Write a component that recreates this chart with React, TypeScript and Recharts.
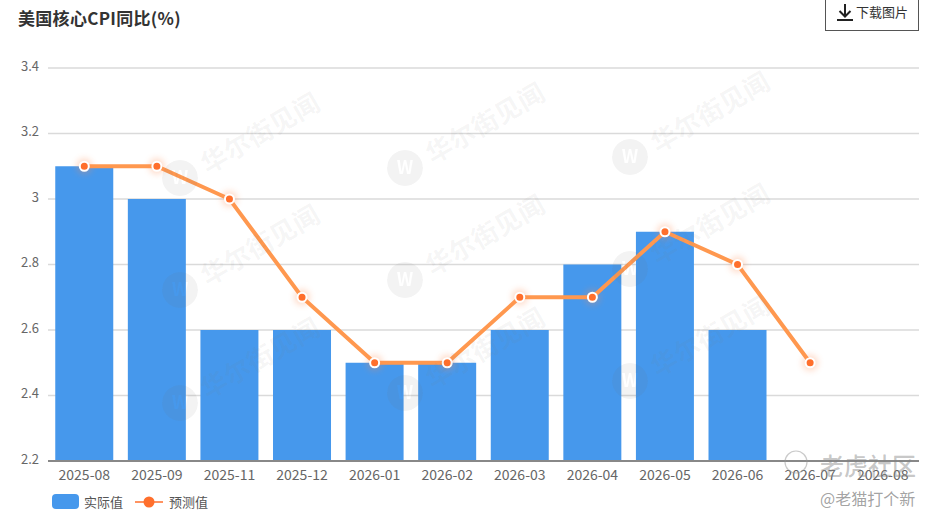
import { Bar, CartesianGrid, ComposedChart, Legend, Line, XAxis, YAxis } from 'recharts';

const FONT = '"Noto Sans CJK SC", "Noto Sans", sans-serif';

const categories = [
  '2025-08', '2025-09', '2025-11', '2025-12', '2026-01', '2026-02',
  '2026-03', '2026-04', '2026-05', '2026-06', '2026-07', '2026-08',
];
const actualValues = [3.1, 3.0, 2.6, 2.6, 2.5, 2.5, 2.6, 2.8, 2.9, 2.6, null, null];
const forecastValues = [3.1, 3.1, 3.0, 2.7, 2.5, 2.5, 2.7, 2.7, 2.9, 2.8, 2.5, null];
const yTicks = [2.2, 2.4, 2.6, 2.8, 3, 3.2, 3.4];

const watermarks = [
  [180, 178], [405, 168], [630, 157],
  [180, 290], [405, 280], [630, 269],
  [180, 403], [405, 393], [630, 381],
];

const BAR_COLOR = '#4698EC';
const LINE_COLOR = '#FF984F';
const DOT_COLOR = '#FF6F2C';

const data = categories.map((month, i) => ({
  month,
  actual: actualValues[i],
  forecast: forecastValues[i],
}));

function ForecastDot({ cx, cy, index }: any) {
  if (cy == null) return null;
  return (
    <g key={index}>
      <circle cx={cx} cy={cy} r={8} fill="#FF8A50" opacity={0.3} style={{ filter: 'blur(3px)' }} />
      <circle cx={cx} cy={cy} r={4.5} fill={DOT_COLOR} stroke="#fff" strokeWidth={2} />
    </g>
  );
}

function ChartLegend() {
  return (
    <div style={{ position: 'relative', height: 20, fontFamily: FONT, fontSize: 13, color: '#555' }}>
      <div style={{ position: 'absolute', left: 52, top: 2, width: 27, height: 15, borderRadius: 4, background: BAR_COLOR }} />
      <span style={{ position: 'absolute', left: 84, top: 0, lineHeight: '20px' }}>实际值</span>
      <svg style={{ position: 'absolute', left: 135, top: 0 }} width={28} height={20}>
        <line x1={0} x2={28} y1={10} y2={10} stroke={DOT_COLOR} strokeWidth={1.5} />
        <circle cx={14} cy={10} r={5.5} fill={DOT_COLOR} />
      </svg>
      <span style={{ position: 'absolute', left: 169, top: 0, lineHeight: '20px' }}>预测值</span>
    </div>
  );
}

function Watermarks() {
  return (
    <div style={{ position: 'absolute', left: 0, top: 0, width: 932, height: 519, overflow: 'hidden', pointerEvents: 'none' }}>
      {watermarks.map(([x, y], i) => (
        <div key={`${x}-${y}`}>
          <svg style={{ position: 'absolute', left: x - 18, top: y - 18 }} width={36} height={36}>
            <mask id={`wm-${i}`}>
              <circle cx={18} cy={18} r={18} fill="#fff" />
              <text x={18} y={24} textAnchor="middle" fontFamily={FONT} fontSize={18} fontWeight={700} fill="#000">
                W
              </text>
            </mask>
            <circle cx={18} cy={18} r={18} fill="rgba(120,120,120,0.085)" mask={`url(#wm-${i})`} />
          </svg>
          <div
            style={{
              position: 'absolute', left: x + 22, top: y - 32, fontFamily: '"Noto Sans CJK SC", serif',
              fontSize: 26, fontWeight: 700, letterSpacing: 0.5, color: 'rgba(120,120,120,0.07)', whiteSpace: 'nowrap',
              transform: 'rotate(-30deg)', transformOrigin: '0 50%',
            }}
          >
            华尔街见闻
          </div>
        </div>
      ))}
      <svg style={{ position: 'absolute', left: 779, top: 447 }} width={34} height={30}>
        <circle cx={17} cy={15} r={11} fill="none" stroke="rgba(150,150,150,0.5)" strokeWidth={1.2} />
      </svg>
      <div style={{ position: 'absolute', left: 820, top: 450, fontFamily: FONT, fontSize: 24, fontWeight: 500, color: 'rgba(130,130,130,0.45)', whiteSpace: 'nowrap', lineHeight: '30px' }}>
        老虎社区
      </div>
      <div style={{ position: 'absolute', left: 820, top: 487, fontFamily: FONT, fontSize: 16, color: 'rgba(110,110,110,0.65)', whiteSpace: 'nowrap', lineHeight: '22px' }}>
        @老猫打个新
      </div>
    </div>
  );
}

export default function App() {
  return (
    <div style={{ position: 'absolute', left: 0, top: 0, width: 932, height: 519, background: '#fff', overflow: 'hidden' }}>
      <div style={{ position: 'absolute', left: 18, top: 6, fontFamily: FONT, fontSize: 17, fontWeight: 700, letterSpacing: 0.3, lineHeight: '24px', color: '#333' }}>
        美国核心CPI同比(%)
      </div>
      <div
        style={{
          position: 'absolute', left: 825, top: -2, width: 92, height: 31, border: '1px solid #555',
          fontFamily: FONT, fontSize: 13, color: '#333', lineHeight: '26px', background: '#fff',
        }}
      >
        <svg style={{ position: 'absolute', left: 10, top: 3 }} width={18} height={20}>
          <path d="M9 2 V14 M3.5 9 L9 14.5 L14.5 9" fill="none" stroke="#222" strokeWidth={2} />
          <line x1={1} x2={17} y1={18} y2={18} stroke="#222" strokeWidth={2} />
        </svg>
        <span style={{ position: 'absolute', left: 30 }}>下载图片</span>
      </div>
      <ComposedChart
        width={932}
        height={519}
        data={data}
        barCategoryGap="10%"
        margin={{ top: 68, right: 13, bottom: 0, left: 0 }}
      >
        <CartesianGrid vertical={false} stroke="#DADADA" strokeWidth={1.5} />
        <XAxis
          dataKey="month"
          height={38}
          interval={0}
          tickLine={false}
          axisLine={{ stroke: '#888', strokeWidth: 2 }}
          tick={{ fontSize: 14, fill: '#666', fontFamily: FONT }}
          tickMargin={3}
        />
        <YAxis
          width={48}
          domain={[2.2, 3.4]}
          ticks={yTicks}
          interval={0}
          allowDataOverflow
          axisLine={false}
          tickLine={false}
          tick={{ fontSize: 13, fill: '#666', fontFamily: FONT, dy: -2 }}
          tickMargin={3}
        />
        <Legend
          verticalAlign="bottom"
          content={<ChartLegend />}
          wrapperStyle={{ left: 0, bottom: 7, width: 300, height: 20 }}
        />
        <Bar dataKey="actual" name="实际值" fill={BAR_COLOR} isAnimationActive={false} />
        <Line
          dataKey="forecast"
          name="预测值"
          stroke={LINE_COLOR}
          strokeWidth={4}
          dot={(props: any) => <ForecastDot {...props} />}
          activeDot={false}
          isAnimationActive={false}
        />
      </ComposedChart>
      <Watermarks />
    </div>
  );
}
